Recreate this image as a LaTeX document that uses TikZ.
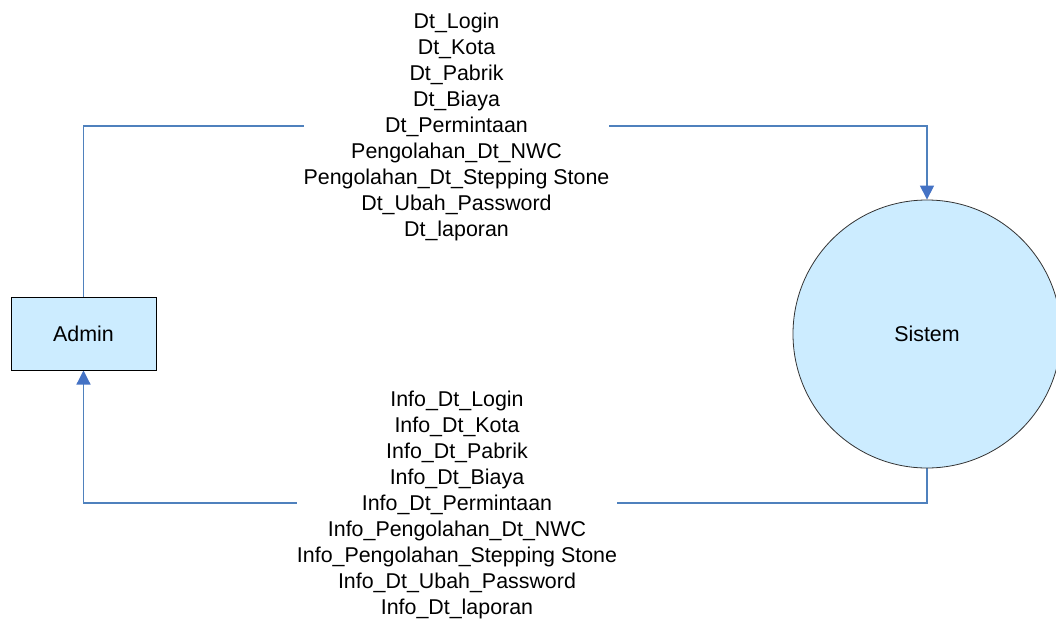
\documentclass[tikz,border=0pt]{standalone}
\usepackage{fontspec}
\setmainfont{Liberation Sans}
\usetikzlibrary{arrows.meta,backgrounds}
\definecolor{isi}{RGB}{204,236,255}
\definecolor{garis}{RGB}{79,129,189}
\definecolor{panah}{RGB}{68,114,196}

\begin{document}
\begin{tikzpicture}[x=0.5pt,y=-0.5pt,
    entitas/.style={draw=black,line width=0.5pt,fill=isi,minimum width=72.5pt,minimum height=36.5pt,inner sep=0pt,font=\fontsize{10.7}{13}\selectfont},
    proses/.style={circle,draw=black!80,line width=0.4pt,fill=isi,minimum size=134pt,inner sep=0pt,font=\fontsize{10.7}{13}\selectfont},
    aliran/.style={align=center,fill=white,inner sep=0pt,font=\fontsize{10.7}{13.05}\selectfont},
    garisalir/.style={draw=garis,line width=0.6pt,-{Triangle[length=7pt,width=7pt,fill=panah,color=panah]}}]
    \useasboundingbox (0,0) rectangle (1056,621);
    \node[entitas] (admin) at (83.5,333.5) {Admin};
    \node[proses] (sistem) at (927,334) {Sistem};
    \node[aliran] (masuk) at (456.5,127) {Dt\_Login\\Dt\_Kota\\Dt\_Pabrik\\Dt\_Biaya\\Dt\_Permintaan\\Pengolahan\_Dt\_NWC\\Pengolahan\_Dt\_Stepping Stone\\Dt\_Ubah\_Password\\Dt\_laporan};
    \node[aliran] (keluar) at (457,505) {Info\_Dt\_Login\\Info\_Dt\_Kota\\Info\_Dt\_Pabrik\\Info\_Dt\_Biaya\\Info\_Dt\_Permintaan\\Info\_Pengolahan\_Dt\_NWC\\Info\_Pengolahan\_Stepping Stone\\Info\_Dt\_Ubah\_Password\\Info\_Dt\_laporan};
    \begin{scope}[on background layer]
      \draw[garisalir] (admin.north) |- ([yshift=0.5pt]masuk.center) -| (sistem.north);
      \draw[garisalir] (sistem.south) |- ([yshift=1pt]keluar.center) -| (admin.south);
    \end{scope}
\end{tikzpicture}
\end{document}
